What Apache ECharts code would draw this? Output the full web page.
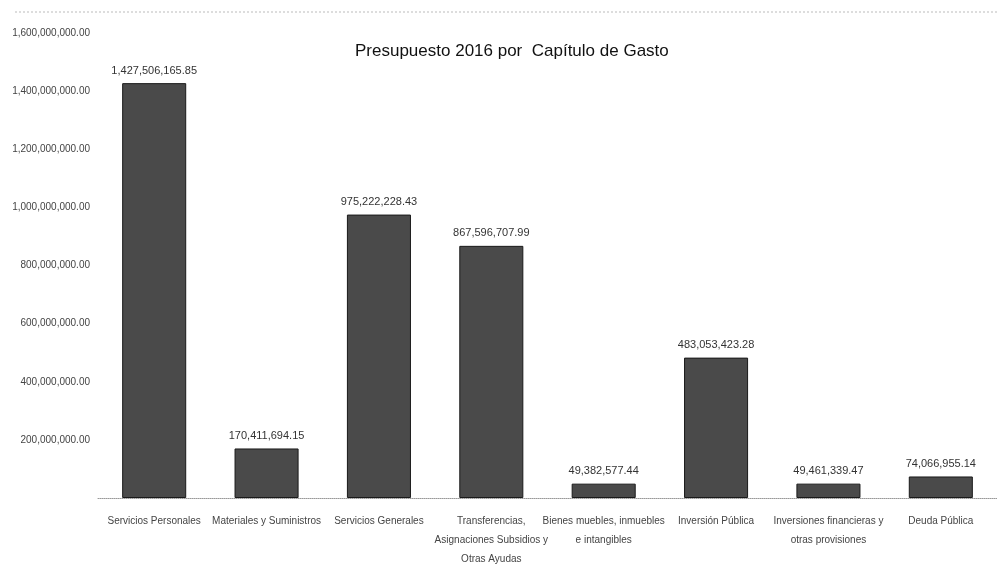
<!DOCTYPE html>
<html><head><meta charset="utf-8">
<script src="https://cdn.jsdelivr.net/npm/echarts@6/dist/echarts.min.js"></script>
<style>html,body{margin:0;padding:0;background:#fff}#c{width:997px;height:577px}</style>
</head><body><div id="c"></div>
<script>
const categories = ["Servicios Personales","Materiales y Suministros","Servicios Generales","Transferencias,\nAsignaciones Subsidios y\nOtras Ayudas","Bienes muebles, inmuebles\ne intangibles","Inversión Pública","Inversiones financieras y\notras provisiones","Deuda Pública"];
const values = [1427506165.85,170411694.15,975222228.43,867596707.99,49382577.44,483053423.28,49461339.47,74066955.14];
const yMin = 0, yMax = 1600000000, yStep = 200000000;
const title = "Presupuesto 2016 por  Capítulo de Gasto";
const fmt = v => Number(v).toLocaleString('en-US',{minimumFractionDigits:2,maximumFractionDigits:2});
const F = "'Liberation Sans',sans-serif";
const chart = echarts.init(document.getElementById('c'));
chart.setOption({
  backgroundColor:'#fff',
  animation:false,
  title:{text:title,left:350,top:38,textStyle:{fontFamily:F,fontSize:17,fontWeight:'normal',color:'#111'}},
  graphic:[{type:'line',shape:{x1:15,y1:12,x2:997,y2:12},style:{stroke:'#bbb',lineWidth:1,lineDash:[2,2]}}],
  grid:{left:98,right:0,top:33,bottom:79},
  xAxis:{type:'category',data:categories,
    axisLine:{lineStyle:{color:'#999',type:'dotted'}},axisTick:{show:false},
    axisLabel:{interval:0,fontFamily:F,fontSize:10,color:'#444',lineHeight:19,margin:14}},
  yAxis:{type:'value',min:yMin,max:yMax,interval:yStep,
    axisLine:{show:false},axisTick:{show:false},splitLine:{show:false},
    axisLabel:{formatter:fmt,showMinLabel:false,fontFamily:F,fontSize:10,color:'#444',margin:8}},
  series:[{type:'bar',data:values,barCategoryGap:'43%',
    itemStyle:{color:'#4a4a4a',borderColor:'#1a1a1a',borderWidth:1},
    label:{show:true,position:'top',formatter:p=>fmt(p.value),fontFamily:F,fontSize:11,color:'#333',distance:7}}]
});
</script></body></html>
